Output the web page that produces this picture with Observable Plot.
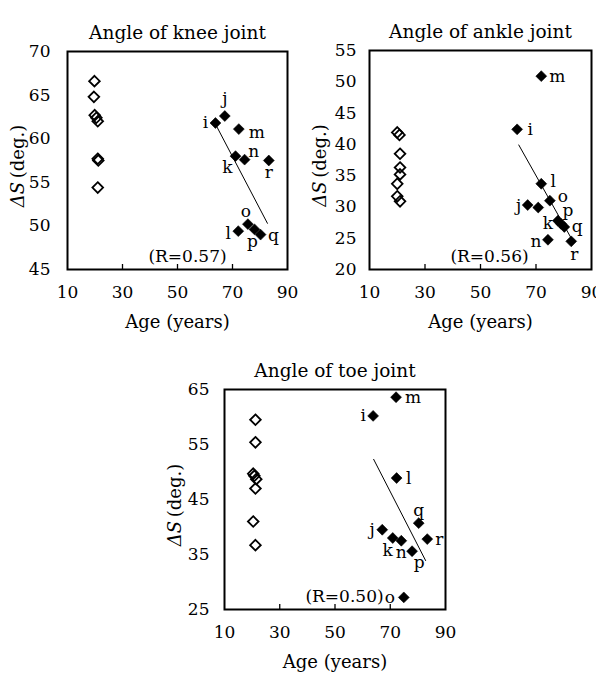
<!DOCTYPE html>
<html><head><meta charset="utf-8">
<script src="https://cdn.jsdelivr.net/npm/d3@7"></script>
<script src="https://cdn.jsdelivr.net/npm/@observablehq/plot@0.6"></script>
<style>
body{margin:0;background:#fff;}
#wrap{position:relative;width:596px;height:692px;background:#fff;}
#wrap svg{position:absolute;overflow:visible;}
</style></head><body><div id="wrap"></div>
<script>
// ---------- data ----------
const xTickValues = [10, 30, 50, 70, 90];
const xInnerTicks = [30, 50, 70];

// Knee
const kneeYoungAge = [19.8, 19.6, 19.9, 20.5, 21.0, 21.0, 21.2, 21.0];
const kneeYoung    = [66.6, 64.8, 62.7, 62.4, 62.0, 57.7, 57.5, 54.4];
const kneeOldLabel = ["i", "j", "k", "l", "m", "n", "o", "p", "q", "r"];
const kneeOldAge   = [63.8, 67.2, 71.1, 72.1, 72.3, 74.4, 75.6, 78.0, 80.2, 83.2];
const kneeOld      = [61.8, 62.6, 58.0, 49.4, 61.1, 57.6, 50.2, 49.6, 49.0, 57.5];
const kneeFitAge   = [64.1, 82.7];
const kneeFit      = [61.5, 50.3];
const kneeYTicks   = [45, 50, 55, 60, 65, 70];

// Ankle
const ankleYoungAge = [20.0, 20.8, 21.0, 21.0, 21.0, 20.0, 20.0, 21.0];
const ankleYoung    = [41.9, 41.5, 38.5, 36.3, 35.2, 33.7, 31.7, 30.9];
const ankleOldLabel = ["i", "j", "", "l", "m", "o", "k", "p", "q", "n", "r"];
const ankleOldAge   = [63.2, 67.0, 70.8, 71.9, 71.9, 75.0, 77.9, 79.0, 80.2, 74.3, 82.7];
const ankleOld      = [42.4, 30.3, 29.9, 33.7, 50.9, 31.0, 27.8, 27.3, 26.8, 24.75, 24.5];
const ankleFitAge   = [63.8, 83.2];
const ankleFit      = [39.9, 24.6];
const ankleYTicks   = [20, 25, 30, 35, 40, 45, 50, 55];

// Toe
const toeYoungAge = [21.2, 21.2, 20.4, 20.8, 21.5, 21.2, 20.4, 21.2];
const toeYoung    = [59.5, 55.4, 49.7, 49.3, 48.7, 47.0, 41.0, 36.7];
const toeOldLabel = ["i", "j", "k", "l", "m", "n", "o", "p", "q", "r"];
const toeOldAge   = [63.8, 67.1, 70.9, 72.3, 72.1, 74.0, 74.9, 77.9, 80.3, 83.4];
const toeOld      = [60.2, 39.5, 38.0, 48.9, 63.6, 37.5, 27.2, 35.6, 40.7, 37.8];
const toeFitAge   = [64.0, 82.8];
const toeFit      = [52.3, 33.9];
const toeYTicks   = [25, 35, 45, 55, 65];

// ---------- label placement (style) ----------
const kneeOffsets  = {i:[-10,0], j:[0,-17], k:[-8,11], l:[-10,2], m:[18,3], n:[9,-8], o:[-2,-13], p:[-2,12], q:[13,1], r:[0,12]};
const ankleOffsets = {i:[13,0], j:[-9,0], l:[12,-2], m:[16,0], o:[13,-4], k:[-10,3], p:[7,-13], q:[13,0], n:[-12,2], r:[3,13]};
const toeOffsets   = {i:[-10,0], j:[-10,0], k:[-5,13], l:[12,0], m:[17,0], n:[0,12], o:[-14,0], p:[7,11], q:[0,-13], r:[12,0]};

const FONT = "DejaVu Serif";

function zipPts(ages, vals, labels) {
  return ages.map((a, i) => ({age: a, v: vals[i], label: labels ? labels[i] : ""}));
}

function yLabelMark(dxFromFrame, dyFromCenter) {
  return (index, scales, values, dim) => {
    const cx = dim.marginLeft + dxFromFrame;
    const cy = dim.marginTop + (dim.height - dim.marginTop - dim.marginBottom) / 2 + dyFromCenter;
    const t = d3.create("svg:text")
      .attr("transform", `translate(${cx},${cy}) rotate(-90)`)
      .attr("text-anchor", "middle")
      .attr("dominant-baseline", "central")
      .attr("font-family", FONT)
      .attr("font-size", 18)
      .attr("fill", "black");
    t.append("tspan").attr("font-style", "italic").text("ΔS");
    t.append("tspan").text("\u2009(deg.)");
    return t.node();
  };
}

function panel(cfg) {
  const young = zipPts(cfg.youngAge, cfg.young);
  const old = zipPts(cfg.oldAge, cfg.old, cfg.oldLabel);
  const fit = zipPts(cfg.fitAge, cfg.fit);
  const labelMarks = old.filter(d => d.label).map(d => Plot.text([d], {
    x: "age", y: "v", text: "label",
    dx: cfg.offsets[d.label][0], dy: cfg.offsets[d.label][1],
    fontSize: 17, fill: "black"
  }));
  return Plot.plot({
    width: cfg.width, height: cfg.height,
    marginTop: cfg.mt, marginBottom: cfg.mb, marginLeft: cfg.ml, marginRight: cfg.mr,
    x: {domain: [10, 90]},
    y: {domain: cfg.yDomain},
    style: {fontFamily: FONT, fontSize: "17px", color: "black", background: "transparent"},
    marks: [
      Plot.axisX(xInnerTicks, {tickSize: -5, tickFormat: () => "", label: null, strokeWidth: 1.3}),
      Plot.axisX(xTickValues, {tickSize: 0, tickPadding: 16, label: null, fontSize: 17}),
      Plot.axisY(cfg.yTicks, {tickSize: 0, tickPadding: cfg.yPad, label: null, fontSize: 17}),
      Plot.line(fit, {x: "age", y: "v", stroke: "black", strokeWidth: 1}),
      Plot.dot(young, {x: "age", y: "v", symbol: "diamond2", r: 4.8, stroke: "black", strokeWidth: 1.8, fill: "none"}),
      Plot.dot(old, {x: "age", y: "v", symbol: "diamond2", r: 4.9, stroke: "black", strokeWidth: 0.6, fill: "black"}),
      ...labelMarks,
      Plot.text([cfg.rText], {frameAnchor: "bottom-left", lineAnchor: "middle", dx: 120, dy: -13, textAnchor: "middle", fontSize: 17}),
      Plot.text([cfg.title], {frameAnchor: "top", lineAnchor: "middle", dy: -18, fontSize: 18.5}),
      Plot.text(["Age (years)"], {frameAnchor: "bottom", lineAnchor: "middle", dy: 53, fontSize: 18}),
      yLabelMark(-50, 6),
      Plot.frame({stroke: "black", strokeWidth: 2})
    ]
  });
}

const wrap = document.getElementById("wrap");

const p1 = panel({
  title: "Angle of knee joint", rText: "(R=0.57)",
  youngAge: kneeYoungAge, young: kneeYoung, oldAge: kneeOldAge, old: kneeOld, oldLabel: kneeOldLabel,
  fitAge: kneeFitAge, fit: kneeFit, yDomain: [45, 70], yTicks: kneeYTicks, offsets: kneeOffsets,
  width: 300, height: 340, mt: 51, mb: 71, ml: 67, mr: 13, yPad: 17
});
p1.style.left = "0px"; p1.style.top = "0px";
wrap.appendChild(p1);

const p2 = panel({
  title: "Angle of ankle joint", rText: "(R=0.56)",
  youngAge: ankleYoungAge, young: ankleYoung, oldAge: ankleOldAge, old: ankleOld, oldLabel: ankleOldLabel,
  fitAge: ankleFitAge, fit: ankleFit, yDomain: [20, 55], yTicks: ankleYTicks, offsets: ankleOffsets,
  width: 296, height: 340, mt: 50, mb: 71, ml: 69, mr: 5, yPad: 13
});
p2.style.left = "300px"; p2.style.top = "0px";
wrap.appendChild(p2);

const p3 = panel({
  title: "Angle of toe joint", rText: "(R=0.50)",
  youngAge: toeYoungAge, young: toeYoung, oldAge: toeOldAge, old: toeOld, oldLabel: toeOldLabel,
  fitAge: toeFitAge, fit: toeFit, yDomain: [25, 65], yTicks: toeYTicks, offsets: toeOffsets,
  width: 310, height: 352, mt: 49, mb: 83, ml: 74, mr: 15, yPad: 15
});
p3.style.left = "150px"; p3.style.top = "340px";
wrap.appendChild(p3);
</script>
</body></html>
